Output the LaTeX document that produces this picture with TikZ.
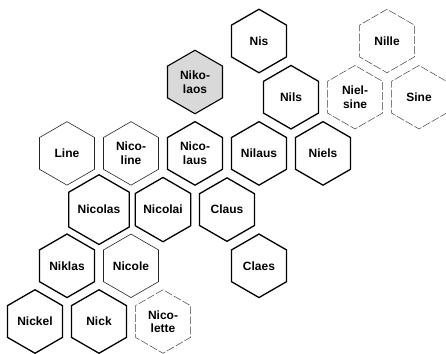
\documentclass[tikz,border=0pt]{standalone}
\usepackage{fontspec}
\setmainfont{Liberation Sans}
\usetikzlibrary{shapes.geometric}
\begin{document}
\begin{tikzpicture}[x=1pt,y=-1pt,
  hexbase/.style={regular polygon, regular polygon sides=6, shape border rotate=30,
    minimum size=63.5pt, inner sep=0pt, align=center,
    font=\fontsize{12}{13.5}\selectfont\bfseries},
  strong/.style={hexbase, draw=black, line width=1.3pt},
  light/.style={hexbase, draw=black!85, line width=0.6pt},
  dashy/.style={hexbase, draw=black!75, line width=0.5pt, dash pattern=on 8pt off 2pt},
  shaded/.style={strong, fill=black!15, line width=1.1pt}]
\useasboundingbox (0,0) rectangle (446,353);
% rows
\def\ra{41}\def\rb{97.2}\def\rc{153.4}\def\rd{209.6}\def\re{265.8}\def\rf{321.5}
\node[strong] (nis) at (259,\ra) {Nis};
\node[dashy] (nille) at (387,\ra) {Nille};
\node[shaded] (nikolaos) at (195,82) {Niko-\\laos};
\node[strong] (nils) at (291,\rb) {Nils};
\node[dashy] (nielsine) at (355,\rb) {Niel-\\sine};
\node[dashy] (sine) at (419,\rb) {Sine};
\node[light] (line) at (67,\rc) {Line};
\node[light] (nicoline) at (131,\rc) {Nico-\\line};
\node[strong] (nicolaus) at (195,\rc) {Nico-\\laus};
\node[strong] (nilaus) at (259,\rc) {Nilaus};
\node[strong] (niels) at (323,\rc) {Niels};
\node[strong] (nicolas) at (99,\rd) {Nicolas};
\node[strong] (nicolai) at (163,\rd) {Nicolai};
\node[strong] (claus) at (227,\rd) {Claus};
\node[strong] (niklas) at (67,\re) {Niklas};
\node[light] (nicole) at (131,\re) {Nicole};
\node[strong] (claes) at (259,\re) {Claes};
\node[strong] (nickel) at (35,\rf) {Nickel};
\node[strong] (nick) at (99,\rf) {Nick};
\node[dashy] (nicolette) at (163,\rf) {Nico-\\lette};
\end{tikzpicture}
\end{document}
